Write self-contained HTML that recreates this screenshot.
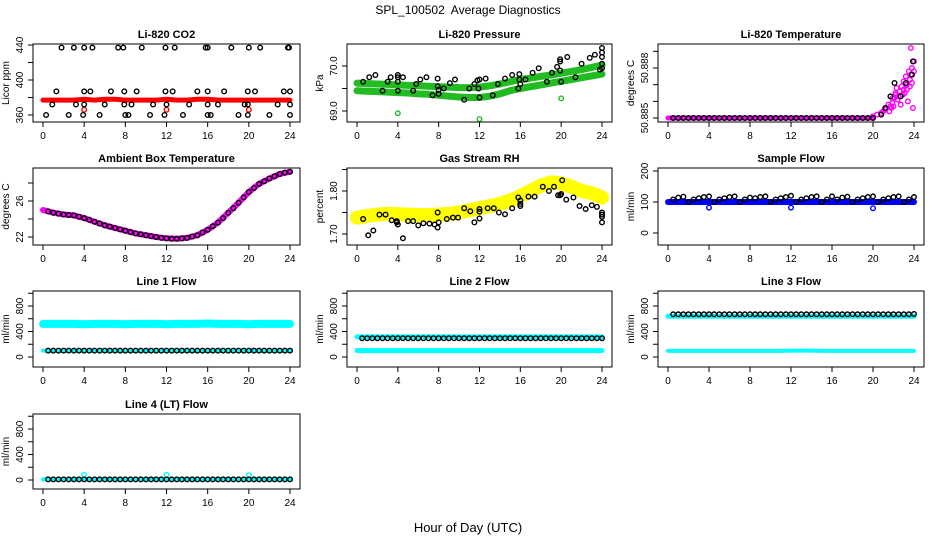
<!DOCTYPE html>
<html><head><meta charset="utf-8">
<style>
html,body{margin:0;padding:0;background:#fff;}
svg{display:block;font-family:"Liberation Sans",sans-serif;}
</style></head>
<body>
<svg id="chart" width="936" height="540" viewBox="0 0 936 540">
<text x="468" y="14" text-anchor="middle" font-size="12" style="white-space:pre" xml:space="preserve">SPL_100502  Average Diagnostics</text>
<text x="468" y="532" text-anchor="middle" font-size="13">Hour of Day (UTC)</text>
</svg>
<script>
// ---------- DATA ----------
const xTicks = [0,4,8,12,16,20,24];
// CO2
const co2RedHourly = [377,377,377,377,378,377,378,378,377,377,377,377,378,377,377,378,378,377,377,377,377,377,377,377,377];
const co2BlackH = [0.3,0.9,1.3,1.8,2.5,3.0,3.2,3.9,4.0,4.0,4.0,4.6,4.8,5.5,6.0,6.6,7.3,7.8,7.9,7.9,8.0,8.3,8.6,9.1,9.6,10.4,10.7,11.8,11.9,11.9,12.0,12.6,12.8,13.6,14.2,15.0,15.8,16.0,16.0,16.0,16.0,16.3,17.0,17.6,18.3,19.0,19.6,19.9,19.9,19.9,20.0,20.6,21.1,22.0,22.8,23.4,23.8,23.9,24.0,24.0,24.0];
const co2BlackV = [360,372,387,437,360,437,372,360,437,387,372,387,437,360,372,387,437,437,387,372,360,360,372,387,437,360,372,360,437,387,372,387,437,360,372,387,437,437,387,372,360,360,372,387,437,360,372,360,372,387,437,387,437,360,372,387,437,437,387,372,360];
const co2RedOutH = [4.0,12.0,20.0];
const co2RedOutV = [366,366,366];
// Pressure
const presUpper = [69.62,69.61,69.6,69.59,69.58,69.57,69.56,69.55,69.54,69.53,69.52,69.52,69.53,69.56,69.6,69.65,69.7,69.73,69.77,69.8,69.84,69.88,69.92,69.97,70.02];
const presLower = [69.45,69.44,69.43,69.42,69.41,69.4,69.38,69.37,69.35,69.33,69.31,69.3,69.3,69.33,69.38,69.45,69.5,69.54,69.58,69.62,69.66,69.7,69.74,69.78,69.82];
const presGreenOutH = [4.0,12.0,20.0];
const presGreenOutV = [68.95,68.82,69.28];
const presBlackH = [0.6,1.2,1.8,2.5,3.0,3.3,4.0,4.0,4.0,4.0,4.5,5.5,5.8,6.2,6.8,7.4,7.9,7.9,8.0,8.0,8.5,9.1,9.6,10.5,11.0,11.5,11.8,11.9,12.0,12.0,12.6,13.3,13.8,14.5,15.2,15.8,15.9,15.9,16.0,16.5,17.2,17.8,18.6,19.1,19.6,19.9,19.9,19.9,20.0,20.6,21.4,22.0,22.8,23.3,23.8,24.0,24.0,24.0,24.0,24.0];
const presBlackV = [69.65,69.75,69.8,69.45,69.65,69.75,69.8,69.75,69.65,69.45,69.75,69.45,69.6,69.7,69.75,69.35,69.72,69.55,69.47,69.38,69.5,69.62,69.7,69.25,69.5,69.6,69.68,69.5,69.3,69.7,69.72,69.35,69.6,69.72,69.8,69.5,69.82,69.7,69.6,69.7,69.85,69.95,69.65,69.85,69.98,69.9,70.1,70.15,69.65,70.2,69.75,70.05,70.18,70.25,69.92,69.95,70.2,70.3,70.4,70.05];
// Li-820 temperature
const tempMagH = [20.0,20.4,20.8,21.0,21.2,21.3,21.5,21.6,21.7,21.8,21.9,22.0,22.1,22.2,22.3,22.4,22.5,22.6,22.7,22.8,22.9,23.0,23.0,23.1,23.2,23.3,23.3,23.4,23.5,23.6,23.6,23.7,23.8,23.8,23.9,24.0,24.0,23.7,22.2,21.9];
const tempMagV = [50.8851,50.8852,50.8853,50.8854,50.8855,50.8856,50.8858,50.8854,50.8857,50.8856,50.8859,50.8857,50.8862,50.8864,50.8868,50.8861,50.8863,50.8866,50.8858,50.8869,50.8864,50.8867,50.8872,50.8865,50.8875,50.8867,50.8870,50.8860,50.8878,50.8869,50.8873,50.8876,50.8871,50.8880,50.8856,50.8878,50.8884,50.8892,50.8865,50.8862];
const tempBlackLate = [50.8852,50.8856,50.8863,50.8871,50.8863,50.8871,50.8876,50.8884];
const tempBlackLateH = [20.8,21.2,21.7,22.1,22.7,23.2,23.8,23.9];
// Ambient box temperature
const ambHourly = [25.0,24.7,24.5,24.4,24.1,23.7,23.3,23.0,22.7,22.4,22.2,22.0,21.85,21.8,21.9,22.2,22.8,23.6,24.7,25.8,27.0,27.9,28.5,29.0,29.25];
const ambBlackH = [0.5,1.0,1.5,2.0,2.5,3.0,3.5,4.0,4.5,5.0,5.5,6.0,6.5,7.0,7.5,8.0,8.5,9.0,9.5,10.0,10.5,11.0,11.5,12.0,12.5,13.0,13.5,14.0,14.5,15.0,15.5,16.0,16.5,17.0,17.5,18.0,18.5,19.0,19.5,20.0,20.5,21.0,21.5,22.0,22.5,23.0,23.5,24.0];
const ambBlackV = [24.85,24.7,24.6,24.5,24.45,24.4,24.25,24.1,23.9,23.7,23.5,23.3,23.15,23.0,22.85,22.7,22.55,22.4,22.3,22.2,22.1,22.0,21.9,21.85,21.8,21.8,21.85,21.9,22.05,22.2,22.5,22.8,23.2,23.6,24.1,24.7,25.2,25.8,26.4,27.0,27.45,27.9,28.2,28.5,28.75,29.0,29.15,29.25];
// Gas stream RH
const rhYellow = [1.738,1.742,1.745,1.747,1.746,1.745,1.744,1.744,1.745,1.747,1.75,1.755,1.76,1.765,1.77,1.778,1.788,1.8,1.812,1.82,1.818,1.81,1.8,1.795,1.785];
const rhBlackH = [0.6,1.1,1.6,2.2,2.8,3.4,3.9,3.9,4.0,4.5,5.0,5.5,6.0,6.5,7.1,7.6,7.9,7.9,8.0,8.8,9.4,9.9,10.5,11.1,11.5,12.0,12.0,12.0,12.8,13.4,13.9,14.5,15.2,15.8,16.0,16.0,16.0,16.8,17.4,18.2,18.8,19.3,19.7,19.9,20.0,20.1,20.5,21.2,21.8,22.4,23.0,23.5,24.0,24.0,24.0,24.0];
const rhBlackV = [1.735,1.697,1.708,1.745,1.745,1.732,1.727,1.73,1.722,1.69,1.73,1.73,1.72,1.725,1.724,1.722,1.715,1.75,1.727,1.735,1.738,1.738,1.76,1.753,1.727,1.736,1.758,1.752,1.76,1.76,1.75,1.746,1.76,1.785,1.77,1.765,1.778,1.787,1.787,1.81,1.8,1.81,1.79,1.79,1.793,1.825,1.78,1.785,1.765,1.758,1.767,1.763,1.74,1.75,1.745,1.727];
// Sample flow
const sfBlue = [100,100,100,100,100,100,100,100,100,100,100,100,100,100,100,100,100,100,100,100,100,100,100,100,100];
const sfBlueOutH = [4.0,12.0,20.0];
const sfBlueOutV = [82,82,80];
const halfHours = [0.5,1.0,1.5,2.0,2.5,3.0,3.5,4.0,4.5,5.0,5.5,6.0,6.5,7.0,7.5,8.0,8.5,9.0,9.5,10.0,10.5,11.0,11.5,12.0,12.5,13.0,13.5,14.0,14.5,15.0,15.5,16.0,16.5,17.0,17.5,18.0,18.5,19.0,19.5,20.0,20.5,21.0,21.5,22.0,22.5,23.0,23.5,24.0];
const sfBlack = [108,114,117,100,108,112,116,118,100,108,112,116,118,100,108,114,112,116,118,100,108,112,116,120,100,108,112,116,118,100,108,118,108,114,117,100,108,112,116,118,100,108,112,116,118,100,108,116];
// Line flows
const l1CyanHigh = [520,520,520,520,515,520,520,520,515,520,520,520,515,520,520,520,525,520,520,520,515,520,520,520,520];
const l1CyanLow = [100,100,100,100,100,100,100,100,100,100,100,100,100,100,100,100,100,100,100,100,100,100,100,100,100];
const l1Black = [100,100,100,100,100,100,100,100,100,100,100,100,100,100,100,100,100,100,100,100,100,100,100,100,100,100,100,100,100,100,100,100,100,100,100,100,100,100,100,100,100,100,100,100,100,100,100,100];
const l2CyanHigh = [315,315,315,315,315,315,315,315,315,315,315,315,315,315,315,315,315,315,315,315,315,315,315,315,315];
const l2CyanLow = [100,100,100,100,100,100,100,100,100,100,100,100,100,100,100,100,100,100,100,100,100,100,100,100,100];
const l2Black = [295,295,295,295,295,295,295,295,295,295,295,295,295,295,295,295,295,295,295,295,295,295,295,295,295,295,295,295,295,295,295,295,295,295,295,295,295,295,295,295,295,295,295,295,295,295,295,295];
const l3CyanHigh = [640,640,640,640,640,640,640,640,640,640,640,640,640,640,640,640,640,640,640,640,640,640,640,640,640];
const l3CyanLow = [95,95,95,95,95,95,95,95,95,95,95,95,100,100,100,95,95,95,95,95,95,95,95,95,95];
const l3Black = [670,670,670,670,670,670,670,670,670,670,670,670,670,670,670,670,670,670,670,670,670,670,670,670,670,670,670,670,670,670,670,670,670,670,670,670,670,670,670,670,670,670,670,670,670,670,670,675];
const l4Cyan = [10,10,10,10,10,10,10,10,10,10,10,10,10,10,10,10,10,10,10,10,10,10,10,10,10];
const l4CyanOutH = [4.0,12.0,20.0];
const l4CyanOutV = [80,80,75];
const l4Black = [10,10,10,10,10,10,10,10,10,10,10,10,10,10,10,10,10,10,10,10,10,10,10,10,10,10,10,10,10,10,10,10,10,10,10,10,10,10,10,10,10,10,10,10,10,10,10,10];
const hours = [0,1,2,3,4,5,6,7,8,9,10,11,12,13,14,15,16,17,18,19,20,21,22,23,24];
const flowTicks = [0,200,400,600,800,1000];
const flowLabels = ["0","400","800"];
const tempFlatH = [0.5,1.0,1.5,2.0,2.5,3.0,3.5,4.0,4.5,5.0,5.5,6.0,6.5,7.0,7.5,8.0,8.5,9.0,9.5,10.0,10.5,11.0,11.5,12.0,12.5,13.0,13.5,14.0,14.5,15.0,15.5,16.0,16.5,17.0,17.5,18.0,18.5,19.0,19.5,20.0];
const tempFlatV = [50.885,50.885,50.885,50.885,50.885,50.885,50.885,50.885,50.885,50.885,50.885,50.885,50.885,50.885,50.885,50.885,50.885,50.885,50.885,50.885,50.885,50.885,50.885,50.885,50.885,50.885,50.885,50.885,50.885,50.885,50.885,50.885,50.885,50.885,50.885,50.885,50.885,50.885,50.885,50.885];

// ---------- LAYOUT ----------
const NS = "http://www.w3.org/2000/svg";
const svg = document.getElementById('chart');
const cols = [[33,300],[347,612],[658,924]];
const rows = [[44,122],[168,245],[291,367],[414,489]];
function mk(tag, attrs, parent){
  const e = document.createElementNS(NS, tag);
  for (const k in attrs) e.setAttribute(k, attrs[k]);
  (parent||svg).appendChild(e);
  return e;
}
function panel(c, r, title, ylab, a1, a2, yTicks, yLabels, name){
  const [L,R] = cols[c], [T,B] = rows[r];
  const g = mk('g', {});
  
  
  const p = {L,R,T,B,g};
  p.x = h => (L+10) + h/24*((R-10)-(L+10));
  const k = (a2[1]-a1[1])/(a2[0]-a1[0]);
  p.y = v => a1[1] + (v-a1[0])*k;
  const t = mk('text', {x:(L+R)/2, y:T-6, 'text-anchor':'middle', 'font-size':11, 'font-weight':'bold'}, g);
  t.textContent = title;
  
  
  const xa = mk('g', {}, g);
  
  
  xTicks.forEach(h => {
    mk('line', {x1:p.x(h), x2:p.x(h), y1:B, y2:B+5, stroke:'#000'}, xa);
    const tl = mk('text', {x:p.x(h), y:B+17, 'text-anchor':'middle', 'font-size':10}, xa);
    tl.textContent = h;
  });
  const ya = mk('g', {}, g);
  
  
  yTicks.forEach(v => {
    mk('line', {x1:L-5, x2:L, y1:p.y(v), y2:p.y(v), stroke:'#000'}, ya);
  });
  yLabels.forEach(s => {
    const yy = p.y(parseFloat(s));
    const tl = mk('text', {x:L-10, y:yy, 'text-anchor':'middle', 'font-size':10, transform:`rotate(-90 ${L-10} ${yy})`}, ya);
    tl.textContent = s;
  });
  const yl = mk('text', {x:L-24, y:(T+B)/2, 'text-anchor':'middle', 'font-size':10, transform:`rotate(-90 ${L-24} ${(T+B)/2})`}, g);
  yl.textContent = ylab;
  
  
  const clipId = 'clip-' + name;
  const cp = mk('clipPath', {id:clipId}, g);
  mk('rect', {x:L, y:T, width:R-L, height:B-T}, cp);
  p.plot = mk('g', {'clip-path':`url(#${clipId})`}, g);
  
  
  p.frame = () => {
    const fr = mk('rect', {x:L, y:T, width:R-L, height:B-T, fill:'none', stroke:'#000'}, g);
    
    
  };
  return p;
}
function band(p, hs, vs, color, w, name){
  const pts = hs.map((h,i) => p.x(h).toFixed(1)+','+p.y(vs[i]).toFixed(1)).join(' ');
  const pl = mk('polyline', {points:pts, fill:'none', stroke:color, 'stroke-width':w, 'stroke-linecap':'round', 'stroke-linejoin':'round'}, p.plot);
  
  
}
function pts(p, hs, vs, color, name){
  const g = mk('g', {}, p.plot);
  
  
  hs.forEach((h,i) => {
    const c = mk('circle', {cx:p.x(h), cy:p.y(vs[i]), r:2.3, fill:'none', stroke:color, 'stroke-width':1.4}, g);
    
    
  });
}

let p = panel(0,0,'Li-820 CO2','Licor ppm',[440,45],[360,115],[360,380,400,420,440],['360','400','440'],'co2');
band(p, hours, co2RedHourly, '#ff0000', 5, 'co2-red-band');
pts(p, co2RedOutH, co2RedOutV, '#ff0000', 'co2-red-outliers');
pts(p, co2BlackH, co2BlackV, '#000', 'co2-black-points');
p.frame();
p = panel(1,0,'Li-820 Pressure','kPa',[70.0,66],[69.0,111],[69.0,69.5,70.0],['69.0','70.0'],'pressure');
band(p, hours, presUpper, '#22bb22', 7, 'pressure-upper-band');
band(p, hours, presLower, '#22bb22', 7, 'pressure-lower-band');
pts(p, presGreenOutH, presGreenOutV, '#22bb22', 'pressure-green-outliers');
pts(p, presBlackH, presBlackV, '#000', 'pressure-black-points');
p.frame();
p = panel(2,0,'Li-820 Temperature','degrees C',[50.885,118],[50.888,68],[50.885,50.886,50.887,50.888,50.889],['50.885','50.888'],'licor-temp');
band(p, [0,20], [50.885,50.885], '#ff00ff', 5, 'licor-temp-magenta-band');
pts(p, tempMagH, tempMagV, '#ff00ff', 'licor-temp-magenta-points');
pts(p, tempFlatH, tempFlatV, '#000', 'licor-temp-black-flat');
pts(p, tempBlackLateH, tempBlackLate, '#000', 'licor-temp-black-late');
p.frame();
p = panel(0,1,'Ambient Box Temperature','degrees C',[22,237],[26,201],[22,24,26,28],['22','26'],'ambient-temp');
band(p, hours, ambHourly, '#ff00ff', 6, 'ambient-magenta-band');
pts(p, ambBlackH, ambBlackV, '#000', 'ambient-black-points');
p.frame();
p = panel(1,1,'Gas Stream RH','percent',[1.70,234],[1.80,191],[1.70,1.75,1.80,1.85],['1.70','1.80'],'rh');
band(p, hours, rhYellow, '#ffff00', 14, 'rh-yellow-band');
pts(p, rhBlackH, rhBlackV, '#000', 'rh-black-points');
p.frame();
p = panel(2,1,'Sample Flow','ml/min',[0,233],[100,202],[0,100,200],['0','100','200'],'sample-flow');
band(p, hours, sfBlue, '#0000ff', 6, 'sample-flow-blue-band');
pts(p, sfBlueOutH, sfBlueOutV, '#0000ff', 'sample-flow-blue-outliers');
pts(p, halfHours, sfBlack, '#000', 'sample-flow-black-points');
p.frame();
p = panel(0,2,'Line 1 Flow','ml/min',[0,357],[800,306],flowTicks,flowLabels,'line1-flow');
band(p, hours, l1CyanHigh, '#00ffff', 8, 'line1-cyan-high');
band(p, hours, l1CyanLow, '#00ffff', 4, 'line1-cyan-low');
pts(p, halfHours, l1Black, '#000', 'line1-black-points');
p.frame();
p = panel(1,2,'Line 2 Flow','ml/min',[0,357],[800,306],flowTicks,flowLabels,'line2-flow');
band(p, hours, l2CyanHigh, '#00ffff', 5, 'line2-cyan-high');
band(p, hours, l2CyanLow, '#00ffff', 5, 'line2-cyan-low');
pts(p, halfHours, l2Black, '#000', 'line2-black-points');
p.frame();
p = panel(2,2,'Line 3 Flow','ml/min',[0,357],[800,306],flowTicks,flowLabels,'line3-flow');
band(p, hours, l3CyanHigh, '#00ffff', 5, 'line3-cyan-high');
band(p, hours, l3CyanLow, '#00ffff', 4, 'line3-cyan-low');
pts(p, halfHours, l3Black, '#000', 'line3-black-points');
p.frame();
p = panel(0,3,'Line 4 (LT) Flow','ml/min',[0,480],[800,429],flowTicks,flowLabels,'line4-flow');
band(p, hours, l4Cyan, '#00ffff', 4, 'line4-cyan-band');
pts(p, l4CyanOutH, l4CyanOutV, '#00ffff', 'line4-cyan-outliers');
pts(p, halfHours, l4Black, '#000', 'line4-black-points');
p.frame();
</script>
</body></html>
